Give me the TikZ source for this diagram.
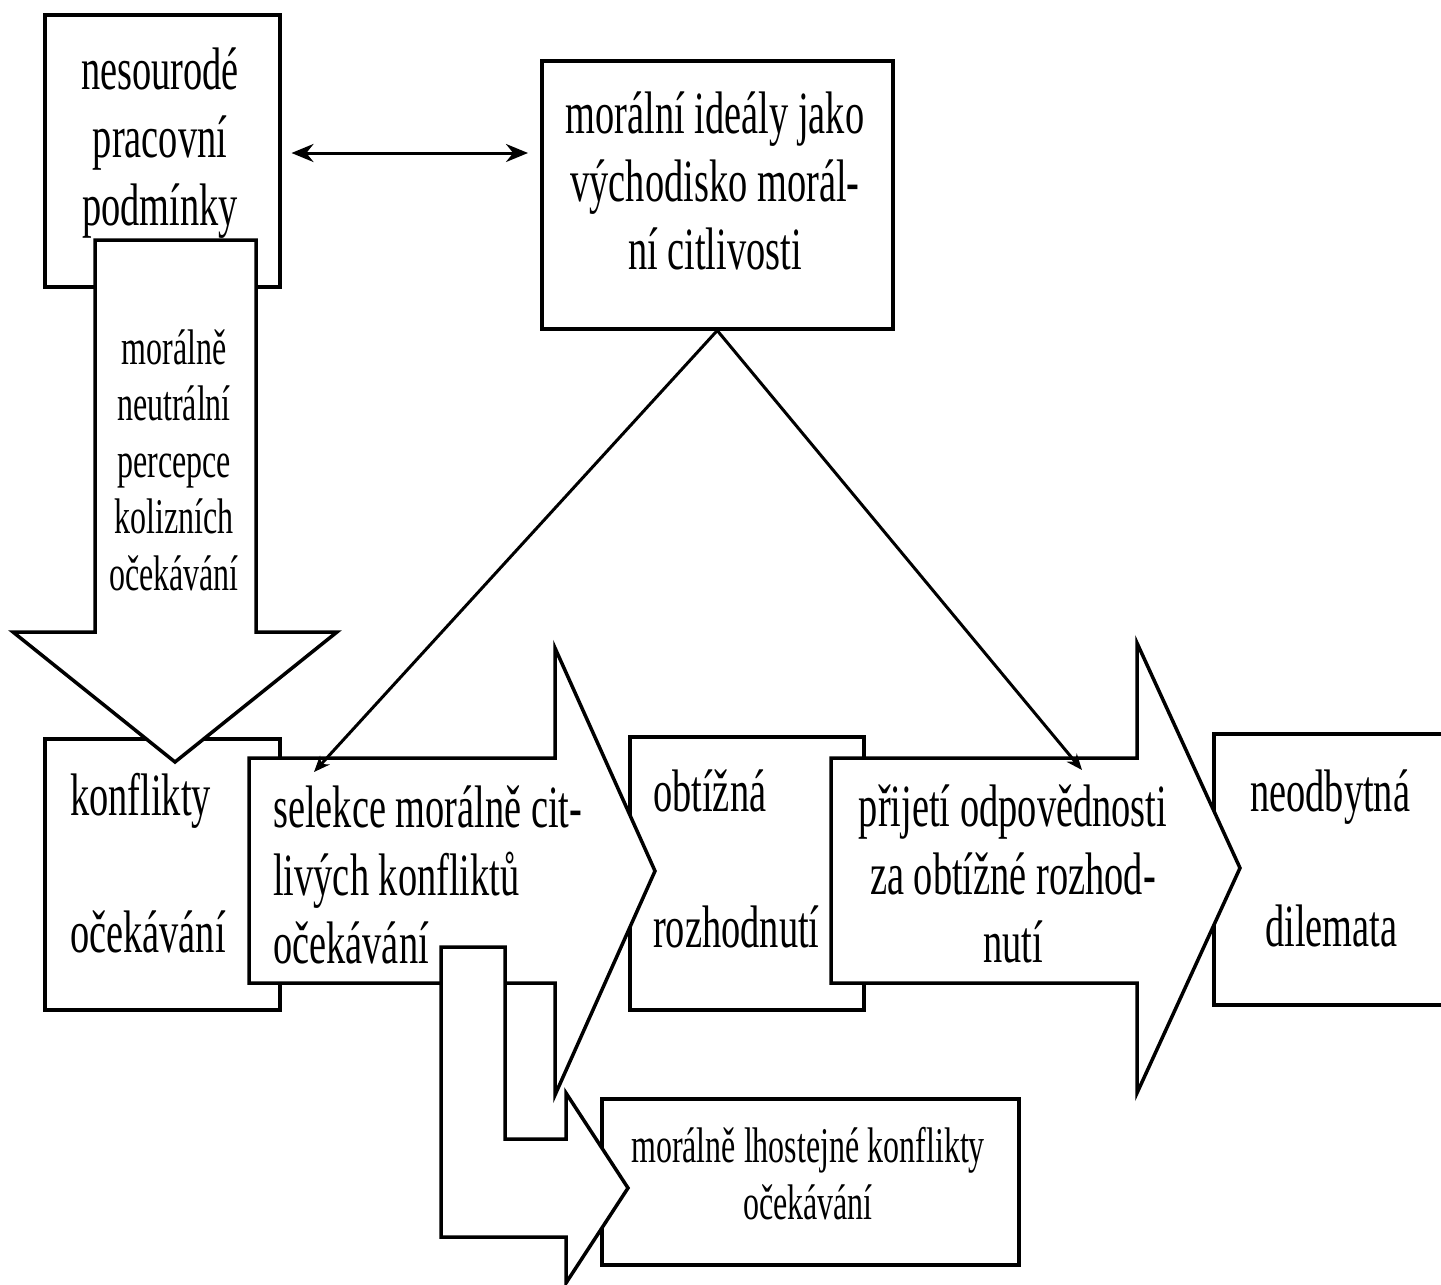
\documentclass[tikz,border=0pt]{standalone}
\usepackage{fontspec}
\setmainfont{Liberation Serif}[FakeStretch=0.64]
\usetikzlibrary{arrows.meta}
\newcommand\mytightlines{\lineskiplimit=-100pt\relax}
\begin{document}
\begin{tikzpicture}[x=1pt,y=-1pt,
  box/.style={draw, fill=white, line width=3.5pt, rectangle, inner sep=0pt, anchor=north west},
  blockarrow/.style={draw, fill=white, line width=3.5pt, line join=miter},
  bigtext/.style={font=\fontsize{60}{68}\selectfont\mytightlines, inner sep=0pt},
  smalltext/.style={font=\fontsize{50}{56.5}\selectfont\mytightlines, inner sep=0pt},
  conn/.style={line width=3pt},
]
\useasboundingbox (0,0) rectangle (1441,1285);
\clip (0,0) rectangle (1441,1285);

% boxes
\node[box, minimum width=235pt, minimum height=272pt] (tl) at (43,13) {};
\node[box, minimum width=351pt, minimum height=268pt] (tr) at (540,59) {};
\node[box, minimum width=235pt, minimum height=271pt] (konf) at (43,737) {};
\node[box, minimum width=234pt, minimum height=273pt] (obt) at (628,735) {};
\node[box, minimum width=250pt, minimum height=271pt] (neod) at (1212,732) {};
\node[box, minimum width=417pt, minimum height=166pt] (lhost) at (600,1097) {};

% box texts (anchor = baseline of last line)
\node[bigtext, align=center, anchor=base] (tlt) at (160,225) {nesourodé\\pracovní\\podmínky};
\node[bigtext, align=center, anchor=base] (trt) at (715,269) {morální ideály jako\\východisko morál-\\ní citlivosti};
\node[bigtext, align=left, anchor=base west] (konft) at (70,952) {konflikty\\[69pt]očekávání};
\node[bigtext, align=left, anchor=base west] (obtt) at (653,947) {obtížná\\[68pt]rozhodnutí};
\node[bigtext, align=left, anchor=base west] (neodt) at (1250,946) {neodbytná\\[67pt]\hspace*{15pt}dilemata};
\node[smalltext, align=center, anchor=base] (lht) at (808,1219) {morálně lhostejné konflikty\\očekávání};

% block arrows
\draw[blockarrow] (95,240) -- (256,240) -- (256,632) -- (337,632) -- (175,762) -- (13,632) -- (95,632) -- cycle;
\node[smalltext, align=center, anchor=base] (arrt) at (174,590) {morálně\\neutrální\\percepce\\kolizních\\očekávání};

\draw[blockarrow] (249,758) -- (555,758) -- (555,648) -- (655,871) -- (555,1095) -- (555,983) -- (249,983) -- cycle;
\node[bigtext, align=left, anchor=base west] (selt) at (273,963) {selekce morálně cit-\\livých konfliktů\\očekávání};

\draw[blockarrow] (831,758) -- (1137,758) -- (1137,643) -- (1240,868) -- (1137,1093) -- (1137,983) -- (831,983) -- cycle;
\node[bigtext, align=center, anchor=base] (acct) at (1013,962) {přijetí odpovědnosti\\za obtížné rozhod-\\nutí};

\draw[blockarrow] (441,947) -- (505,947) -- (505,1139) -- (566,1139) -- (566,1093) -- (628,1188) -- (566,1283) -- (566,1237) -- (441,1237) -- cycle;

% connectors
\coordinate (dblY) at (0,153);
\draw[conn, {Stealth[length=22pt,width=18pt]}-{Stealth[length=22pt,width=18pt]}, shorten <=10pt, shorten >=12pt]
  (tl.east |- dblY) -- (tr.west |- dblY);
\coordinate (selIn) at (314,772);
\coordinate (accIn) at (1082,770);
\draw[conn, -{Stealth[length=16pt,width=13pt]}] (tr.south) -- (selIn);
\draw[conn, -{Stealth[length=16pt,width=13pt]}] (tr.south) -- (accIn);
\end{tikzpicture}
\end{document}
